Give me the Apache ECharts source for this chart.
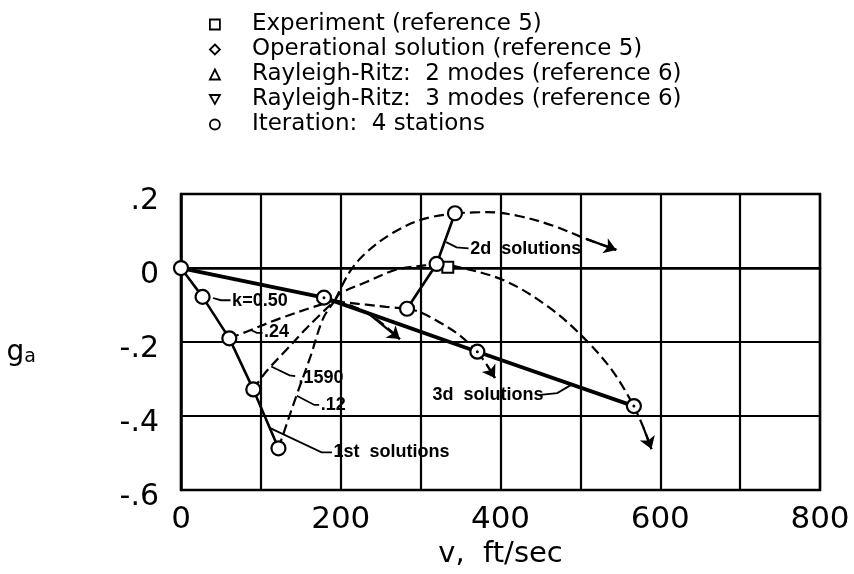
<!DOCTYPE html>
<html><head><meta charset="utf-8">
<script src="https://cdn.jsdelivr.net/npm/echarts@6/dist/echarts.min.js"></script>
<style>html,body{margin:0;padding:0;background:#fff}#c{width:854px;height:574px}</style>
</head><body><div id="c"></div>
<script>
// ---- tick labels / legend ----
const xTickLabels = ['0', '200', '400', '600', '800'];
const yTickValues = [-0.6, -0.4, -0.2, 0, 0.2];
const yTickLabels = ['-.6', '-.4', '-.2', '0', '.2'];
const legendNames = [
  'Experiment (reference 5)',
  'Operational solution (reference 5)',
  'Rayleigh-Ritz:  2 modes (reference 6)',
  'Rayleigh-Ritz:  3 modes (reference 6)',
  'Iteration:  4 stations'
];

// ---- data points (v ft/sec, g_a) ----
const experimentPoints = [[334, 0.002]];
const operationalPoints = [];
const rr2Points = [];
const rr3Points = [];
const iterationPoints = [
  [0, 0], [27, -0.078], [179, -0.080], [60.5, -0.190], [90.5, -0.328], [122, -0.487],
  [283, -0.110], [320, 0.011], [343, 0.148], [371, -0.226], [567, -0.373]
];
const dottedCirclePoints = [[179, -0.080], [371, -0.226], [567, -0.373]];

// ---- solid solution lines ----
const firstSolutions = [[0, 0], [27, -0.078], [60.5, -0.190], [90.5, -0.328], [122, -0.487]];
const secondSolutions = [[283, -0.110], [320, 0.011], [343, 0.148]];
const thirdSolutions = [[0, 0], [179, -0.080], [371, -0.226], [567, -0.373]];

// ---- dashed iteration paths (one per k) ----
const k24Seg1 = [[60.5, -0.190], [82, -0.172], [124, -0.136], [166, -0.105], [193, -0.087]];
const k24Seg2 = [[193, -0.087], [203, -0.092], [232, -0.099], [257, -0.105], [283, -0.110]];
const k24Seg3 = [[283, -0.110], [299, -0.119], [324, -0.147], [349, -0.182], [371, -0.226]];
const k24Tail = [[371, -0.226], [383, -0.262], [393, -0.297]];

const k159Seg1 = [[90.5, -0.328], [107, -0.279], [132, -0.221], [161, -0.154], [193, -0.087]];
const k159Seg2 = [[193, -0.087], [199, -0.069], [232, -0.038], [270, -0.004], [305, 0.007], [320, 0.011]];
const k159Seg3 = [[320, 0.011], [345, 0.004], [405, -0.034], [460, -0.105], [503, -0.186], [540, -0.277], [567, -0.373]];
const k159Tail = [[567, -0.373], [579, -0.431], [589, -0.489]];

const k12Seg1 = [[122, -0.487], [128, -0.449], [145, -0.342], [161.5, -0.243], [178, -0.136], [193, -0.087]];
const k12Seg2 = [[193, -0.087], [211, -0.011], [232, 0.042], [266, 0.096], [303, 0.132], [343, 0.148]];
const k12Tail = [[343, 0.148], [383, 0.151], [424, 0.140], [466, 0.114], [508, 0.078], [545, 0.049]];

const k50Tail = [[193, -0.087], [234, -0.122], [274, -0.192]];

// ---- annotations: text anchor (left-middle) and leader lines ----
const annotationTexts = ['k=0.50', '.24', '.1590', '.12', '1st  solutions', '2d  solutions', '3d  solutions'];
const annotationAnchors = [[64, -0.090], [104, -0.172], [147, -0.297], [175, -0.370], [191, -0.498], [362, 0.052], [315, -0.343]];
const leaderLines = [
  [[40, -0.081], [50, -0.087], [62, -0.087]],
  [[88, -0.168], [95, -0.175], [102, -0.175]],
  [[113, -0.266], [136, -0.290], [143, -0.292]],
  [[145, -0.345], [167, -0.370], [173, -0.370]],
  [[111, -0.432], [176, -0.498], [189, -0.498]],
  [[332, 0.070], [345, 0.056], [360, 0.053]],
  [[450, -0.343], [471, -0.338], [489, -0.315]]
];

const chart = echarts.init(document.getElementById('c'), null, {renderer: 'canvas'});
const black = '#000';
const dash = [10, 5];

function dashedLine(data) {
  return {type: 'line', data: data, smooth: 0.35, symbol: 'none', silent: true,
    lineStyle: {color: black, width: 2.2, type: dash}, z: 2};
}
// dashed tail + arrowhead on its last segment
function arrowTail(data) {
  const n = data.length;
  return [
    dashedLine(data),
    {type: 'lines', coordinateSystem: 'cartesian2d', silent: true,
     symbol: ['none', 'arrow'], symbolSize: [8, 12],
     lineStyle: {color: black, width: 2.2, type: 'solid', opacity: 1, curveness: 0},
     data: [{coords: [data[n - 2], data[n - 1]]}], z: 2}
  ];
}

const legendIcons = ['rect', 'diamond', 'triangle', 'path://M0,0L10,0L5,9Z', 'circle'];
const hollow = {color: '#fff', borderColor: black, borderWidth: 1.6, opacity: 1};

const series = [
  {name: legendNames[0], type: 'scatter', data: experimentPoints, symbol: 'rect', symbolSize: 11, itemStyle: {color: '#fff', borderColor: black, borderWidth: 2, opacity: 1}, z: 6},
  {name: legendNames[1], type: 'scatter', data: operationalPoints, symbol: 'diamond', symbolSize: 11, itemStyle: hollow},
  {name: legendNames[2], type: 'scatter', data: rr2Points, symbol: 'triangle', symbolSize: 11, itemStyle: hollow},
  {name: legendNames[3], type: 'scatter', data: rr3Points, symbol: 'path://M0,0L10,0L5,9Z', symbolSize: 11, itemStyle: hollow},
  {name: legendNames[4], type: 'scatter', data: iterationPoints, symbol: 'circle', symbolSize: 14, itemStyle: {color: '#fff', borderColor: black, borderWidth: 2.2, opacity: 1}, z: 7},
  {type: 'scatter', data: dottedCirclePoints, symbol: 'circle', symbolSize: 3, itemStyle: {color: black, opacity: 1}, z: 8, silent: true},
  {type: 'line', data: firstSolutions, symbol: 'none', lineStyle: {color: black, width: 2.6}, z: 3, silent: true},
  {type: 'line', data: secondSolutions, symbol: 'none', lineStyle: {color: black, width: 2.6}, z: 3, silent: true},
  {type: 'line', data: thirdSolutions, symbol: 'none', lineStyle: {color: black, width: 3.8}, z: 3, silent: true},
  dashedLine(k24Seg1), dashedLine(k24Seg2), dashedLine(k24Seg3),
  dashedLine(k159Seg1), dashedLine(k159Seg2), dashedLine(k159Seg3),
  dashedLine(k12Seg1), dashedLine(k12Seg2),
  ...arrowTail(k24Tail), ...arrowTail(k159Tail), ...arrowTail(k12Tail), ...arrowTail(k50Tail),
  {type: 'lines', coordinateSystem: 'cartesian2d', polyline: true, silent: true, symbol: 'none',
   lineStyle: {color: black, width: 1.8, opacity: 1}, data: leaderLines.map(c => ({coords: c})), z: 4},
  {type: 'scatter', silent: true, symbolSize: 0, z: 9, itemStyle: {opacity: 1},
   data: annotationAnchors.map((p, i) => ({value: p, name: annotationTexts[i]})),
   label: {show: true, position: 'right', distance: 0, formatter: '{b}', color: black, opacity: 1,
     fontFamily: 'Liberation Sans', fontWeight: 'bold', fontSize: 18}}
];

chart.setOption({
  backgroundColor: '#fff',
  animation: false,
  textStyle: {fontFamily: 'DejaVu Sans', color: black},
  legend: {
    selectedMode: false, orient: 'vertical', left: 204, top: 7, itemGap: 0,
    itemWidth: 10, itemHeight: 10,
    textStyle: {fontFamily: 'DejaVu Sans', fontSize: 23, color: black, lineHeight: 25, padding: [0, 0, 0, 27]},
    data: legendNames.map((n, i) => ({name: n, icon: legendIcons[i],
      itemStyle: {color: '#fff', borderColor: black, borderWidth: 1.8}}))
  },
  grid: {left: 181, right: 34, top: 194, bottom: 81, show: true, borderColor: black, borderWidth: 2.5, backgroundColor: 'transparent'},
  xAxis: {
    type: 'value', min: 0, max: 800, interval: 100,
    name: 'v,  ft/sec', nameLocation: 'middle', nameGap: 44,
    nameTextStyle: {fontFamily: 'DejaVu Sans', fontSize: 29, color: black},
    axisLine: {show: true, lineStyle: {color: black, width: 2.5}},
    axisTick: {show: false},
    splitLine: {show: true, lineStyle: {color: black, width: 2.2}},
    axisLabel: {margin: 14, fontFamily: 'DejaVu Sans', fontSize: 31, color: black,
      formatter: v => xTickLabels.includes(String(Math.round(v))) ? String(Math.round(v)) : ''}
  },
  yAxis: {
    type: 'value', min: -0.6, max: 0.2, interval: 0.2,
    name: '{g|g}{a|a}', nameLocation: 'middle', nameRotate: 0, nameGap: 145,
    nameTextStyle: {padding: [22, 0, 0, 0], rich: {g: {fontFamily: 'DejaVu Sans', fontSize: 28, color: black},
      a: {fontFamily: 'DejaVu Sans', fontSize: 19, color: black, verticalAlign: 'bottom', padding: [8, 0, 0, 0]}}},
    axisLine: {show: true, lineStyle: {color: black, width: 2.5}},
    axisTick: {show: false},
    splitLine: {show: true, lineStyle: {color: black, width: 2.2}},
    axisLabel: {margin: 22, color: black,
      formatter: v => { const i = yTickValues.findIndex(t => Math.abs(t - v) < 1e-6); return i >= 0 ? '{t|' + yTickLabels[i] + '}' : ''; },
      rich: {t: {fontFamily: 'DejaVu Sans', fontSize: 30, color: black, padding: [14, 0, 0, 0]}}}
  },
  series: series
});
</script></body></html>
